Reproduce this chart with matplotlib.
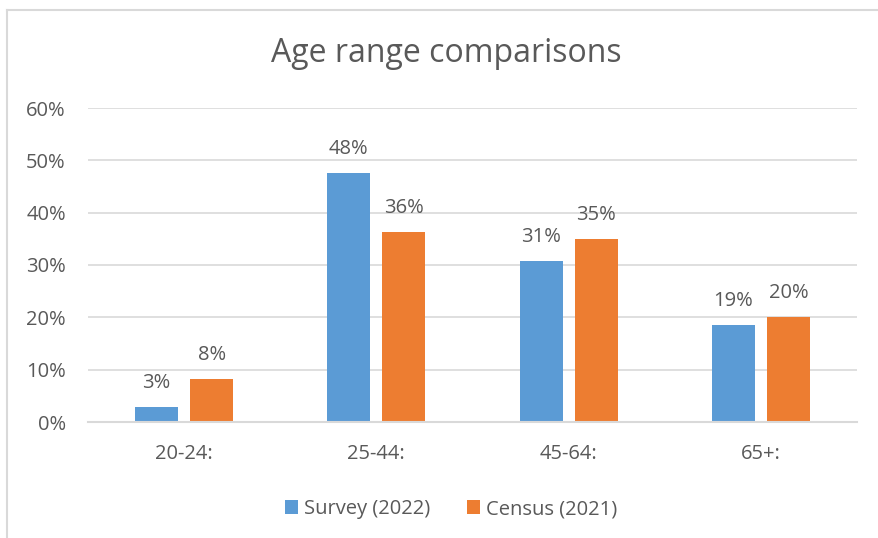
import numpy as np
import matplotlib
matplotlib.use('Agg')
import matplotlib.pyplot as plt
from matplotlib.lines import Line2D

plt.rcParams['font.family'] = ['Open Sans', 'DejaVu Sans']

categories = ['20-24:', '25-44:', '45-64:', '65+:']
survey = [0.029, 0.476, 0.307, 0.186]
census = [0.083, 0.363, 0.349, 0.201]
series_names = ['Survey (2022)', 'Census (2021)']
yticks = [0, 0.1, 0.2, 0.3, 0.4, 0.5, 0.6]

blue = '#5b9bd5'
orange = '#ed7d31'
txt = '#595959'
grid = '#d9d9d9'

fig = plt.figure(figsize=(8.79, 5.38), dpi=100)
ax = fig.add_axes([88/879, 1-422/538, (857-88)/879, (422-108)/538])

x = np.arange(len(categories))
w = 0.224
off = 0.143
b1 = ax.bar(x - off, survey, w, color=blue, label=series_names[0], zorder=3)
b2 = ax.bar(x + off, census, w, color=orange, label=series_names[1], zorder=3)

for bars, vals in [(b1, survey), (b2, census)]:
    for b, v in zip(bars, vals):
        ax.annotate('{:.0f}%'.format(v*100), (b.get_x() + b.get_width()/2, v),
                    xytext=(0, 10), textcoords='offset points', ha='center', va='bottom',
                    fontsize=14.5, color=txt)

ax.set_xlim(-0.5, len(categories) - 0.5)
ax.set_ylim(0, 0.6)
ax.set_yticks(yticks)
ax.set_yticklabels(['{:.0f}%'.format(t*100) for t in yticks])
ax.set_xticks(x)
ax.set_xticklabels(categories)
ax.tick_params(axis='both', length=0, labelsize=14.5, labelcolor=txt)
ax.tick_params(axis='y', pad=16)
ax.tick_params(axis='x', pad=16)
ax.yaxis.grid(True, color=grid, linewidth=1.2, zorder=0)
for s in ['top', 'right', 'left']:
    ax.spines[s].set_visible(False)
ax.spines['bottom'].set_color(grid)
ax.spines['bottom'].set_linewidth(1.5)
ax.spines['bottom'].set_zorder(4)

fig.text(446/879, 1-54/538, 'Age range comparisons', ha='center', va='center',
         fontsize=23, color=txt)

fig.legend(handles=[b1, b2], loc='center', bbox_to_anchor=(451/879, 1-509/538),
           ncol=2, frameon=False, fontsize=14.5, labelcolor=txt,
           handlelength=0.65, handleheight=0.65, handletextpad=0.3, columnspacing=1.8)

# chart border
fig.add_artist(Line2D([7.5/879, 7.5/879], [0, 1-10/538], color=grid, linewidth=1.5))
fig.add_artist(Line2D([7.5/879, 1], [1-10/538, 1-10/538], color=grid, linewidth=1.5))

fig.savefig('out.png', dpi=100)
